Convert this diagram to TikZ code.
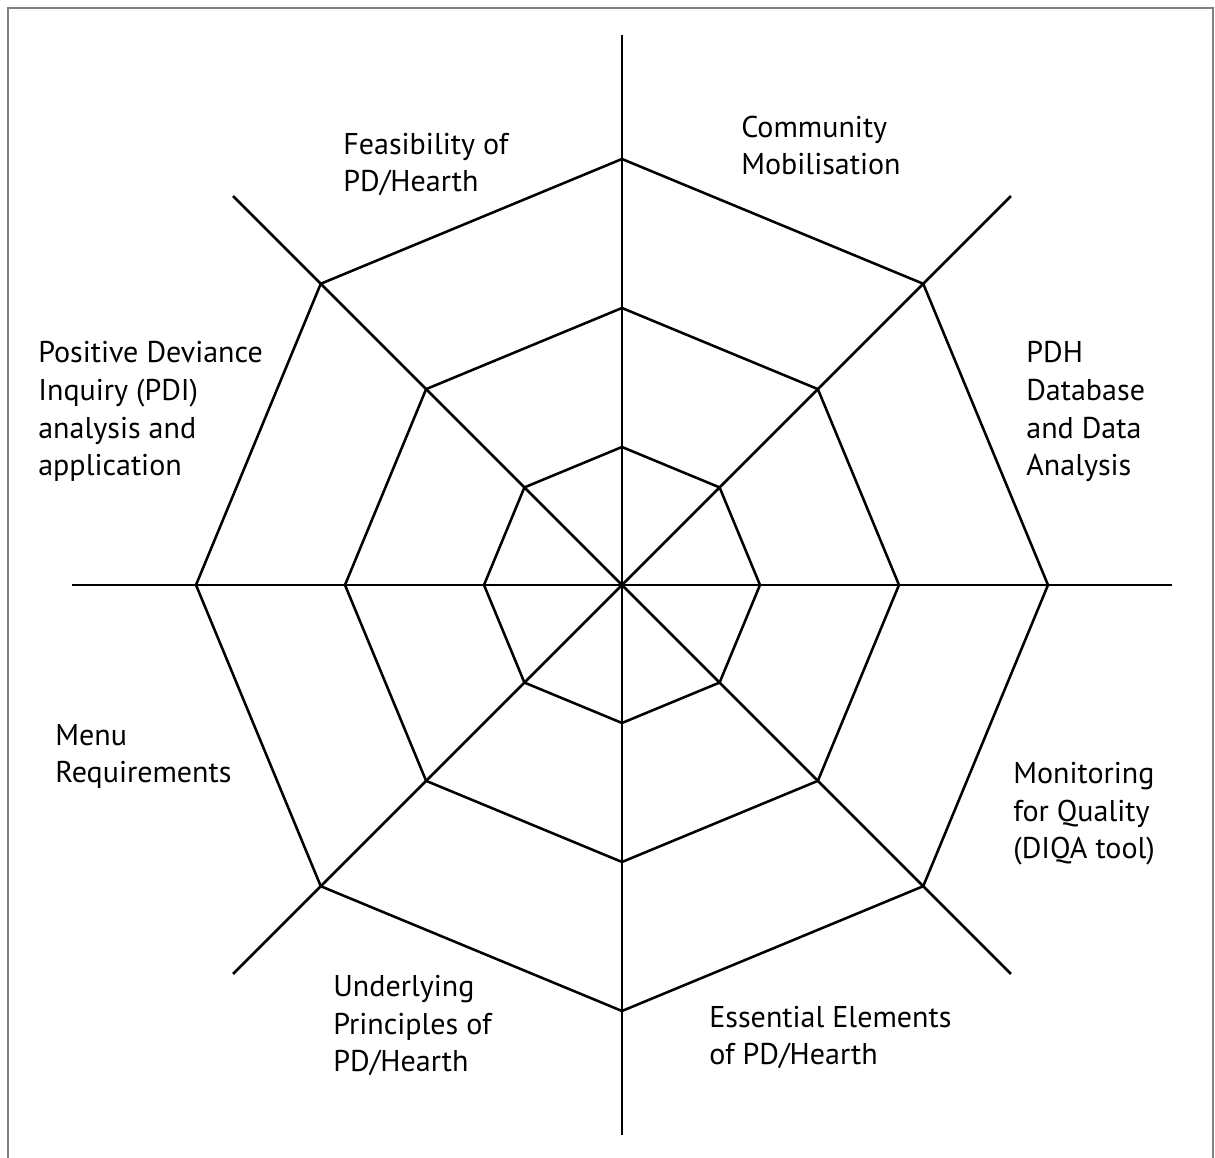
\documentclass[tikz,border=0pt]{standalone}
\usepackage{fontspec}
\setmainfont{PT Sans}
\tikzset{
  web/.style={line width=1.45pt},
  lbl/.style={anchor=base west, align=left, inner sep=0pt,
    font=\fontsize{17.1}{21.6}\selectfont}
}
\begin{document}
\begin{tikzpicture}[x=0.02cm,y=0.02cm]
\useasboundingbox (-622,-573) rectangle (593,585);
% cornice
\draw[gray, line width=1.1pt] (-614,-600) -- (-614,577) -- (591,577) -- (591,-600);
% assi
\coordinate (o) at (0,0);
\foreach \a in {0,45,...,315}
  \draw[web] (o) -- (\a:550);
% ottagoni
\foreach \r in {138,277,426}
  \draw[web] (0:\r) \foreach \a in {45,90,...,315} { -- (\a:\r) } -- cycle;
% etichette (base = ultima riga)
\node[lbl] (feas) at (-279,393) {Feasibility of\\PD/Hearth};
\node[lbl] (comm) at (119,410) {Community\\Mobilisation};
\node[lbl] (pdh) at (404,109) {PDH\\Database\\and Data\\Analysis};
\node[lbl] (pdi) at (-584,109) {Positive Deviance\\Inquiry (PDI)\\analysis and\\application};
\node[lbl] (menu) at (-567,-198) {Menu\\Requirements};
\node[lbl] (mon) at (391,-274) {Monitoring\\for Quality\\(DIQA tool)};
\node[lbl] (under) at (-289,-487) {Underlying\\Principles of\\PD/Hearth};
\node[lbl] (ess) at (87,-480) {Essential Elements\\of PD/Hearth};
\end{tikzpicture}
\end{document}
